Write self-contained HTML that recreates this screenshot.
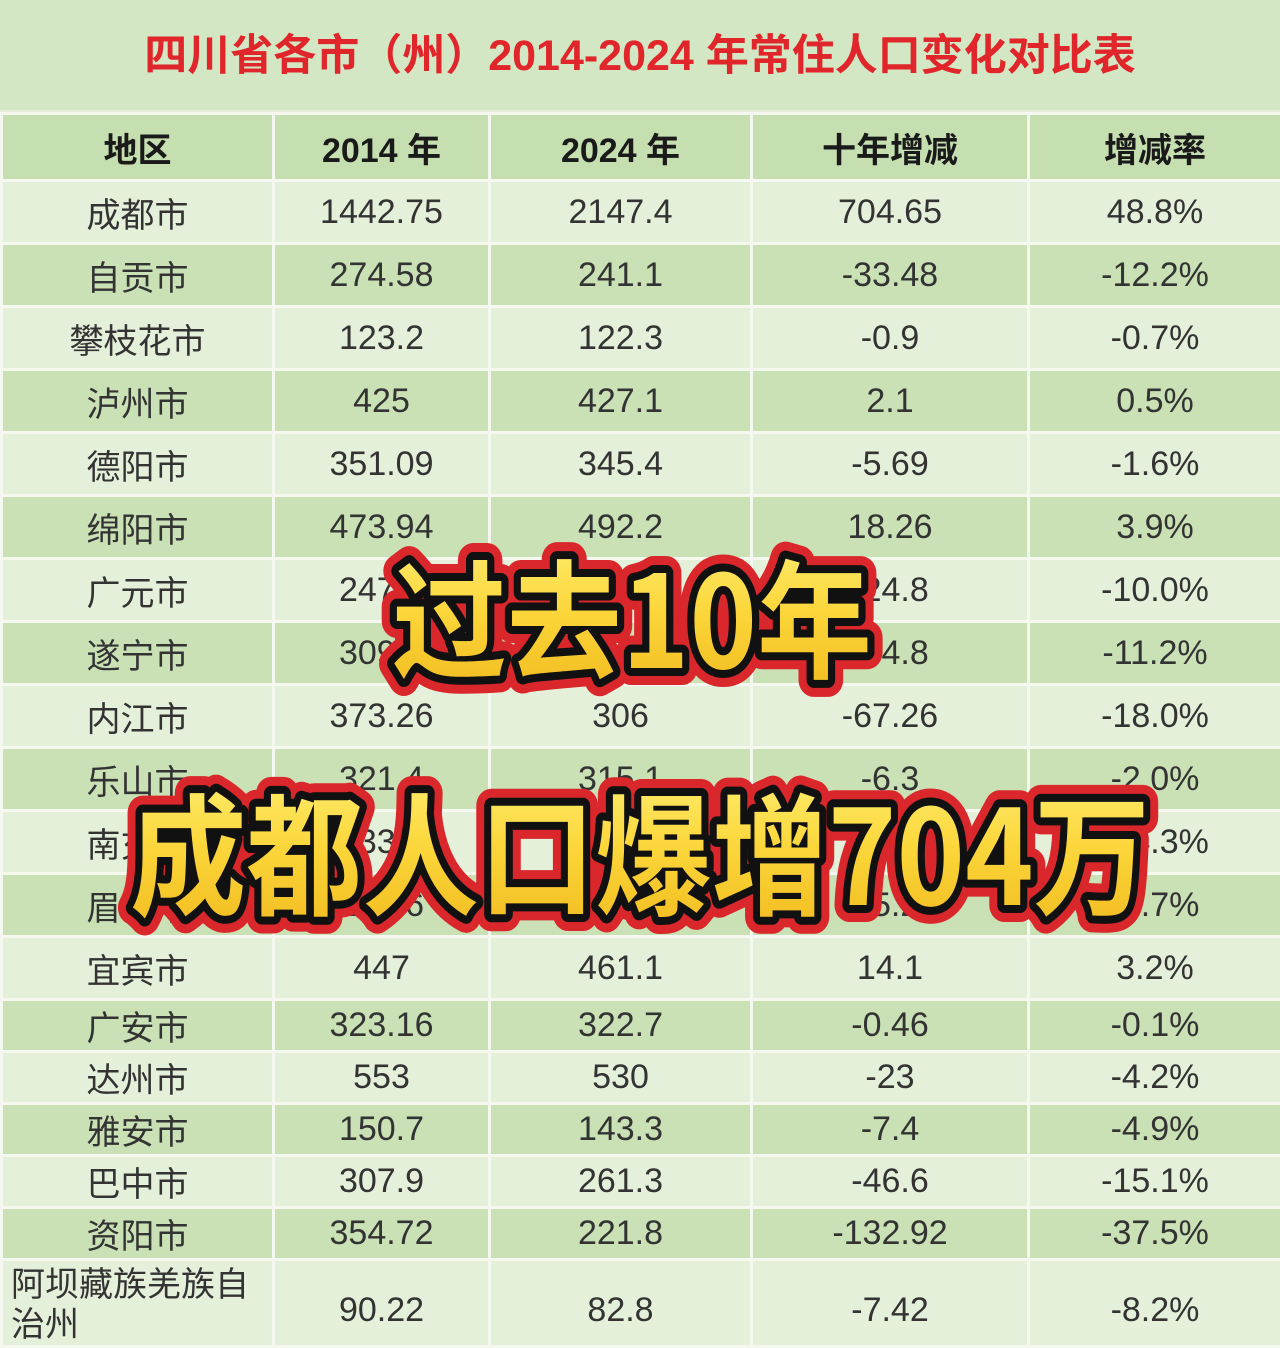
<!DOCTYPE html>
<html><head><meta charset="utf-8">
<style>
html,body{margin:0;padding:0;}
body{width:1280px;height:1328px;overflow:hidden;background:#e4efda;position:relative;font-family:"Liberation Sans","Noto Sans CJK SC",sans-serif;}
#title{position:absolute;left:0;top:0;width:1280px;height:110px;background:#d3e7c4;color:#e0262a;font-weight:bold;font-size:43px;line-height:112px;text-align:center;font-family:"Liberation Sans","Noto Sans CJK SC",sans-serif;}
table{position:absolute;left:0;top:112px;border-collapse:collapse;width:1280px;table-layout:fixed;}
td,th{border:3px solid #f4f8ef;text-align:center;color:#333;font-size:34px;padding:0;font-weight:normal;white-space:nowrap;overflow:hidden;}
th{background:#c6dfb1;font-weight:bold;height:64px;color:#1a1a1a;}
tr.l td{background:#e5f0da;}
tr.d td{background:#c9e1b5;}
tr.a td{height:60px;}
tr.b td{height:49px;}
td.w{white-space:normal;line-height:40px;font-size:34px;vertical-align:top;padding:4px 0 0 8px;text-align:left;}
#ov{position:absolute;left:0;top:0;}
</style></head><body>
<div id="title">四川省各市（州）2014-2024 年常住人口变化对比表</div>
<table>
<colgroup><col style="width:272px"><col style="width:216px"><col style="width:262px"><col style="width:277px"><col style="width:253px"></colgroup>
<tr><th>地区</th><th>2014 年</th><th>2024 年</th><th>十年增减</th><th>增减率</th></tr>
<tr class="l a"><td>成都市</td><td>1442.75</td><td>2147.4</td><td>704.65</td><td>48.8%</td></tr>
<tr class="d a"><td>自贡市</td><td>274.58</td><td>241.1</td><td>-33.48</td><td>-12.2%</td></tr>
<tr class="l a"><td>攀枝花市</td><td>123.2</td><td>122.3</td><td>-0.9</td><td>-0.7%</td></tr>
<tr class="d a"><td>泸州市</td><td>425</td><td>427.1</td><td>2.1</td><td>0.5%</td></tr>
<tr class="l a"><td>德阳市</td><td>351.09</td><td>345.4</td><td>-5.69</td><td>-1.6%</td></tr>
<tr class="d a"><td>绵阳市</td><td>473.94</td><td>492.2</td><td>18.26</td><td>3.9%</td></tr>
<tr class="l a"><td>广元市</td><td>247.6</td><td>222.8</td><td>-24.8</td><td>-10.0%</td></tr>
<tr class="d a"><td>遂宁市</td><td>309.6</td><td>274.8</td><td>-34.8</td><td>-11.2%</td></tr>
<tr class="l a"><td>内江市</td><td>373.26</td><td>306</td><td>-67.26</td><td>-18.0%</td></tr>
<tr class="d a"><td>乐山市</td><td>321.4</td><td>315.1</td><td>-6.3</td><td>-2.0%</td></tr>
<tr class="l a"><td>南充市</td><td>633.4</td><td>539.6</td><td>-93.8</td><td>-14.3%</td></tr>
<tr class="d a"><td>眉山市</td><td>297.6</td><td>292.4</td><td>-5.2</td><td>-1.7%</td></tr>
<tr class="l a"><td>宜宾市</td><td>447</td><td>461.1</td><td>14.1</td><td>3.2%</td></tr>
<tr class="d b"><td>广安市</td><td>323.16</td><td>322.7</td><td>-0.46</td><td>-0.1%</td></tr>
<tr class="l b"><td>达州市</td><td>553</td><td>530</td><td>-23</td><td>-4.2%</td></tr>
<tr class="d b"><td>雅安市</td><td>150.7</td><td>143.3</td><td>-7.4</td><td>-4.9%</td></tr>
<tr class="l b"><td>巴中市</td><td>307.9</td><td>261.3</td><td>-46.6</td><td>-15.1%</td></tr>
<tr class="d b"><td>资阳市</td><td>354.72</td><td>221.8</td><td>-132.92</td><td>-37.5%</td></tr>
<tr class="l"><td class="w" style="height:80px;">阿坝藏族羌族自治州</td><td style="vertical-align:top;padding-top:30px">90.22</td><td style="vertical-align:top;padding-top:30px">82.8</td><td style="vertical-align:top;padding-top:30px">-7.42</td><td style="vertical-align:top;padding-top:30px">-8.2%</td></tr>
</table>
<svg id="ov" width="1280" height="1328">
<defs><linearGradient id="yg" x1="0" y1="0" x2="0" y2="1"><stop offset="0" stop-color="#fff27a"/><stop offset="0.5" stop-color="#fbd63a"/><stop offset="1" stop-color="#f0b81c"/></linearGradient></defs>
<g font-family="'Noto Sans CJK SC',sans-serif" font-weight="bold" font-size="128">
<g>
<text x="392" y="668" textLength="480" lengthAdjust="spacingAndGlyphs" fill="#d9272b" stroke="#d9272b" stroke-width="34" stroke-linejoin="round">过去10年</text>
<text x="392" y="668" textLength="480" lengthAdjust="spacingAndGlyphs" fill="#111" stroke="#111" stroke-width="16" stroke-linejoin="round">过去10年</text>
<text x="392" y="668" textLength="480" lengthAdjust="spacingAndGlyphs" fill="url(#yg)">过去10年</text>
</g>
<g font-size="132">
<text x="130" y="905" textLength="1020" lengthAdjust="spacingAndGlyphs" fill="#d9272b" stroke="#d9272b" stroke-width="34" stroke-linejoin="round">成都人口爆增704万</text>
<text x="130" y="905" textLength="1020" lengthAdjust="spacingAndGlyphs" fill="#111" stroke="#111" stroke-width="16" stroke-linejoin="round">成都人口爆增704万</text>
<text x="130" y="905" textLength="1020" lengthAdjust="spacingAndGlyphs" fill="url(#yg)">成都人口爆增704万</text>
</g>
</g>
</svg>
</body></html>
